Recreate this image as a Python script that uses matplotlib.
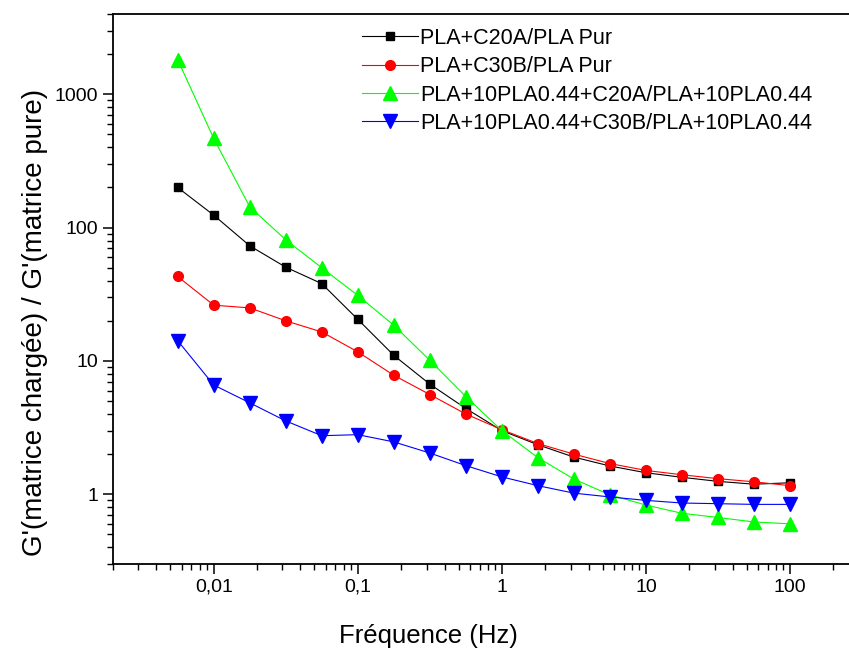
import matplotlib
matplotlib.use("Agg")
import matplotlib.pyplot as plt
from matplotlib.ticker import FixedLocator, FixedFormatter, LogLocator, NullFormatter

plt.rcParams['font.family'] = ['Liberation Sans', 'DejaVu Sans']

freq = [0.00562, 0.01, 0.0178, 0.0316, 0.0562, 0.1, 0.178, 0.316, 0.562, 1,
        1.78, 3.16, 5.62, 10, 17.8, 31.6, 56.2, 100]
c20a = [200, 124, 73, 50.5, 38, 20.5, 11.0, 6.7, 4.4, 3.0,
        2.35, 1.9, 1.63, 1.45, 1.34, 1.25, 1.19, 1.22]
c30b = [43, 26.2, 25.0, 20.0, 16.5, 11.7, 7.8, 5.6, 4.0, 3.05,
        2.4, 2.0, 1.70, 1.51, 1.40, 1.31, 1.24, 1.16]
pla_c20a = [1820, 466, 143, 81, 50, 31, 18.5, 10.1, 5.4, 3.0,
            1.88, 1.3, 0.99, 0.83, 0.72, 0.67, 0.62, 0.60]
pla_c30b = [14.2, 6.6, 4.85, 3.55, 2.75, 2.8, 2.47, 2.04, 1.64, 1.35,
            1.16, 1.02, 0.955, 0.90, 0.86, 0.85, 0.84, 0.84]

labels = ["PLA+C20A/PLA Pur", "PLA+C30B/PLA Pur",
          "PLA+10PLA0.44+C20A/PLA+10PLA0.44", "PLA+10PLA0.44+C30B/PLA+10PLA0.44"]
xticks = [0.01, 0.1, 1, 10, 100]
xticklabels = ["0,01", "0,1", "1", "10", "100"]
yticks = [1, 10, 100, 1000]
yticklabels = ["1", "10", "100", "1000"]

fig = plt.figure(figsize=(8.49, 6.51), dpi=100)
ax = fig.add_axes([113/849, 87/651, (890.8-113)/849, 550/651])

ax.plot(freq, c20a, color='black', lw=0.8, marker='s', ms=5.5, label=labels[0])
ax.plot(freq, c30b, color='#ff0000', lw=0.8, marker='o', ms=7, label=labels[1])
ax.plot(freq, pla_c20a, color='#00ff00', lw=0.8, marker='^', ms=10, label=labels[2])
ax.plot(freq, pla_c30b, color='#0000ff', lw=0.8, marker='v', ms=10, label=labels[3])

ax.set_xscale('log')
ax.set_yscale('log')
ax.set_xlim(0.002, 500)
ax.set_ylim(0.3, 4000)

ax.xaxis.set_major_locator(FixedLocator(xticks))
ax.xaxis.set_major_formatter(FixedFormatter(xticklabels))
ax.yaxis.set_major_locator(FixedLocator(yticks))
ax.yaxis.set_major_formatter(FixedFormatter(yticklabels))
ax.xaxis.set_minor_locator(LogLocator(base=10, subs=range(2, 10)))
ax.yaxis.set_minor_locator(LogLocator(base=10, subs=range(2, 10)))
ax.xaxis.set_minor_formatter(NullFormatter())
ax.yaxis.set_minor_formatter(NullFormatter())

ax.tick_params(which='major', direction='out', length=7, width=1.1, labelsize=14)
ax.tick_params(which='minor', direction='out', length=4, width=1.0)
for s in ax.spines.values():
    s.set_linewidth(1.3)

ax.set_xlabel("Fréquence (Hz)", fontsize=18.5)
ax.xaxis.set_label_coords(0.406, -0.11)
ax.set_ylabel("G'(matrice chargée) / G'(matrice pure)", fontsize=20)
ax.yaxis.set_label_coords(-0.083, 0.44)

leg = ax.legend(loc='upper left', bbox_to_anchor=(362/849, 1-28/651),
                bbox_transform=fig.transFigure, frameon=False, fontsize=15.5,
                handlelength=2.6, handletextpad=0.1, labelspacing=0.34,
                borderpad=0, borderaxespad=0)

fig.savefig("out.png", dpi=100)
